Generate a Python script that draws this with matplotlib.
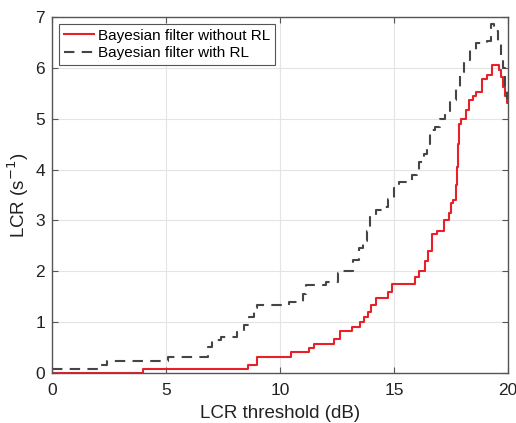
import matplotlib
matplotlib.use("Agg")
import matplotlib.pyplot as plt

plt.rcParams['font.family'] = ['Liberation Sans', 'DejaVu Sans']

# Bayesian filter without RL (step positions and values)
x_without = [0, 4.0, 8.6, 9.0, 10.5, 11.25, 11.5, 12.35, 12.65, 13.15, 13.5, 13.7, 13.85,
             14.0, 14.2, 14.75, 14.9, 15.9, 16.1, 16.35, 16.5, 16.65, 16.9, 17.2, 17.4,
             17.5, 17.6, 17.72, 17.76, 17.82, 17.86, 17.96, 18.15, 18.3, 18.45, 18.6,
             18.85, 19.1, 19.3, 19.62, 19.7, 19.8, 19.87, 19.95, 20.0]
y_without = [0.0, 0.07, 0.16, 0.32, 0.41, 0.50, 0.58, 0.66, 0.83, 0.91, 1.0, 1.1, 1.2,
             1.34, 1.48, 1.6, 1.75, 1.88, 2.0, 2.2, 2.4, 2.74, 2.8, 3.0, 3.14,
             3.34, 3.4, 3.7, 4.05, 4.5, 4.9, 5.0, 5.17, 5.37, 5.45, 5.53,
             5.79, 5.85, 6.05, 5.95, 5.82, 5.62, 5.45, 5.3, 5.3]

# Bayesian filter with RL
x_with = [0, 2.0, 2.4, 5.1, 6.85, 7.0, 7.4, 8.1, 8.4, 8.65, 8.85, 9.0, 10.4, 11.0, 11.15,
          12.0, 12.55, 12.7, 13.2, 13.45, 13.65, 13.8, 13.95, 14.2, 14.5, 14.75, 15.0,
          15.2, 15.8, 16.0, 16.1, 16.3, 16.45, 16.6, 16.8, 17.0, 17.25, 17.45, 17.7,
          17.9, 18.05, 18.35, 18.6, 19.1, 19.25, 19.4, 19.55, 19.7, 19.8, 19.88, 19.95, 20.0]
y_with = [0.07, 0.16, 0.24, 0.32, 0.52, 0.65, 0.70, 0.81, 0.94, 1.1, 1.27, 1.33, 1.40, 1.55, 1.73,
          1.78, 1.96, 2.0, 2.22, 2.45, 2.6, 2.8, 3.1, 3.2, 3.27, 3.43, 3.63,
          3.76, 3.89, 3.98, 4.15, 4.3, 4.51, 4.77, 4.84, 5.0, 5.1, 5.36, 5.62,
          5.92, 6.15, 6.35, 6.48, 6.52, 6.87, 6.73, 6.48, 6.25, 5.99, 5.62, 5.4, 5.4]

x_ticks = [0, 5, 10, 15, 20]
y_ticks = [0, 1, 2, 3, 4, 5, 6, 7]

fig = plt.figure(figsize=(5.16, 4.23), dpi=100)
ax = fig.add_axes([52/516, 1-373/423, 456/516, 356/423])

ax.plot(x_without, y_without, drawstyle='steps-post', color='#e8202a', lw=1.5,
        label='Bayesian filter without RL')
ax.plot(x_with, y_with, drawstyle='steps-post', color='#454545', lw=1.5,
        linestyle=(0, (5, 3.5)), label='Bayesian filter with RL')

ax.set_xlim(0, 20)
ax.set_ylim(0, 7)
ax.set_xticks(x_ticks)
ax.set_yticks(y_ticks)
ax.grid(True, color='#e4e4e4', lw=0.8)
ax.set_axisbelow(True)
ax.tick_params(direction='in', top=True, right=True, length=4, width=0.8,
               color='#555555', labelsize=12.5, labelcolor='#222222')
ax.tick_params(axis='x', pad=7)
ax.tick_params(axis='y', pad=5)
for s in ax.spines.values():
    s.set_color('#555555')
    s.set_linewidth(1.0)

ax.set_xlabel('LCR threshold (dB)', fontsize=13.5, color='#222222', labelpad=5)
ax.set_ylabel('LCR (s$^{-1}$)', fontsize=13.5, color='#222222', labelpad=3)

leg = ax.legend(loc='upper left', fontsize=11, frameon=True, fancybox=False,
                edgecolor='#555555', framealpha=1, handlelength=2.0,
                borderaxespad=0.45, borderpad=0.32, labelspacing=0.22, handletextpad=0.25)
leg.get_frame().set_linewidth(0.8)

fig.savefig('out.png', dpi=100)
